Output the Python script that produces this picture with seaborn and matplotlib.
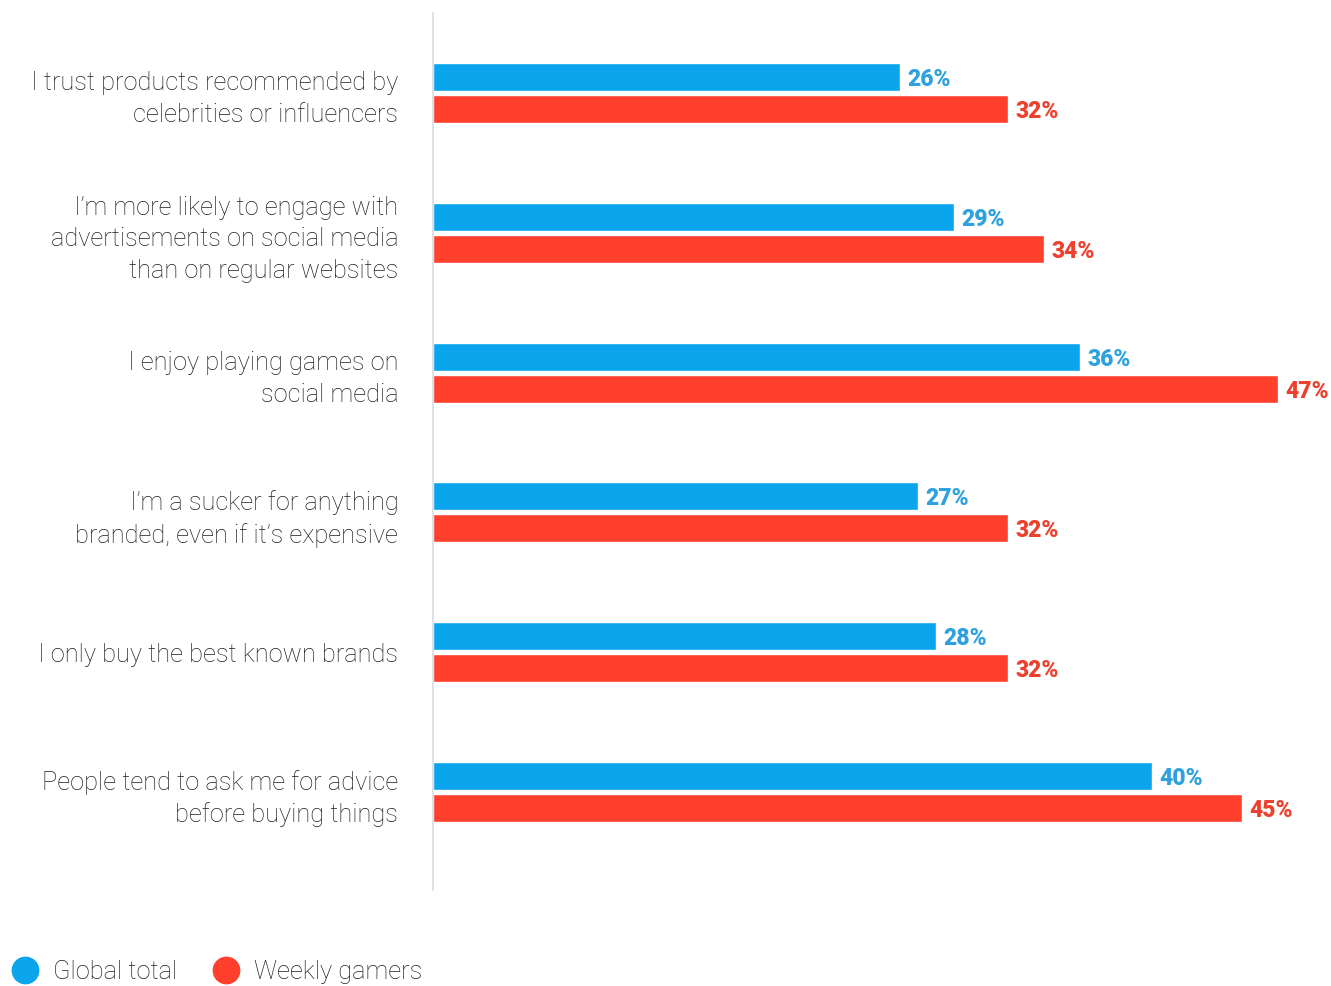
import matplotlib
matplotlib.use("Agg")
import matplotlib.pyplot as plt
from matplotlib.lines import Line2D
import seaborn as sns
import pandas as pd

statements = [
    "I trust products recommended by\ncelebrities or influencers",
    "I\u2019m more likely to engage with\nadvertisements on social media\nthan on regular websites",
    "I enjoy playing games on\nsocial media",
    "I\u2019m a sucker for anything\nbranded, even if it\u2019s expensive",
    "I only buy the best known brands",
    "People tend to ask me for advice\nbefore buying things",
]
series_names = ["Global total", "Weekly gamers"]
global_total = [26, 29, 36, 27, 28, 40]
weekly_gamers = [32, 34, 47, 32, 32, 45]

bar_colors = ["#0AA5EC", "#FF402C"]
label_colors = ["#2FA2DE", "#EC412E"]

df = pd.DataFrame({
    "statement": statements * 2,
    "group": [series_names[0]] * len(statements) + [series_names[1]] * len(statements),
    "value": global_total + weekly_gamers,
})

sns.set_theme(style="white")
plt.rcParams["font.family"] = ["Roboto", "DejaVu Sans"]

fig = plt.figure(figsize=(13.31, 9.86), dpi=100)
ax = fig.add_axes([433 / 1331, 1 - 890 / 986, 1 - 433 / 1331, (890 - 13) / 986])

sns.barplot(
    data=df, y="statement", x="value", hue="group", order=statements,
    hue_order=series_names, palette=bar_colors, orient="h",
    width=0.458, gap=0.125, saturation=1, legend=False, ax=ax,
)

for container, color in zip(ax.containers, label_colors):
    labels = ax.bar_label(container, labels=[f"{v:.0f}%" for v in container.datavalues],
                          padding=5, color=color, fontsize=16.5, fontweight="black")
    for t in labels:
        t.set_va("center_baseline")

ax.set_xlim(0, 49.95)
ax.set_ylim(5.70, -0.572)
ax.set_xlabel("")
ax.set_ylabel("")
ax.set_xticks([])
ax.tick_params(axis="y", length=0, pad=25)
for lbl in ax.get_yticklabels():
    lbl.set_fontsize(18.3)
    lbl.set_fontweight("light")
    lbl.set_color("#1E1E1E")
    lbl.set_linespacing(1.4)
    lbl.set_horizontalalignment("right")

for side in ["top", "right", "bottom"]:
    ax.spines[side].set_visible(False)
ax.spines["left"].set_color("#D8DBE2")
ax.spines["left"].set_linewidth(1.2)

handles = [
    Line2D([], [], marker="o", linestyle="", markersize=19,
           markerfacecolor=c, markeredgecolor=c)
    for c in bar_colors
]
leg = fig.legend(
    handles, series_names, loc="center left",
    bbox_to_anchor=(0.0, 1 - 972 / 986), frameon=False, ncol=2,
    handletextpad=0.1, columnspacing=0.9, borderaxespad=0, borderpad=0,
    prop={"size": 18.3, "weight": "light"},
)
for t in leg.get_texts():
    t.set_color("#1E1E1E")

fig.savefig("out.png", dpi=100)
